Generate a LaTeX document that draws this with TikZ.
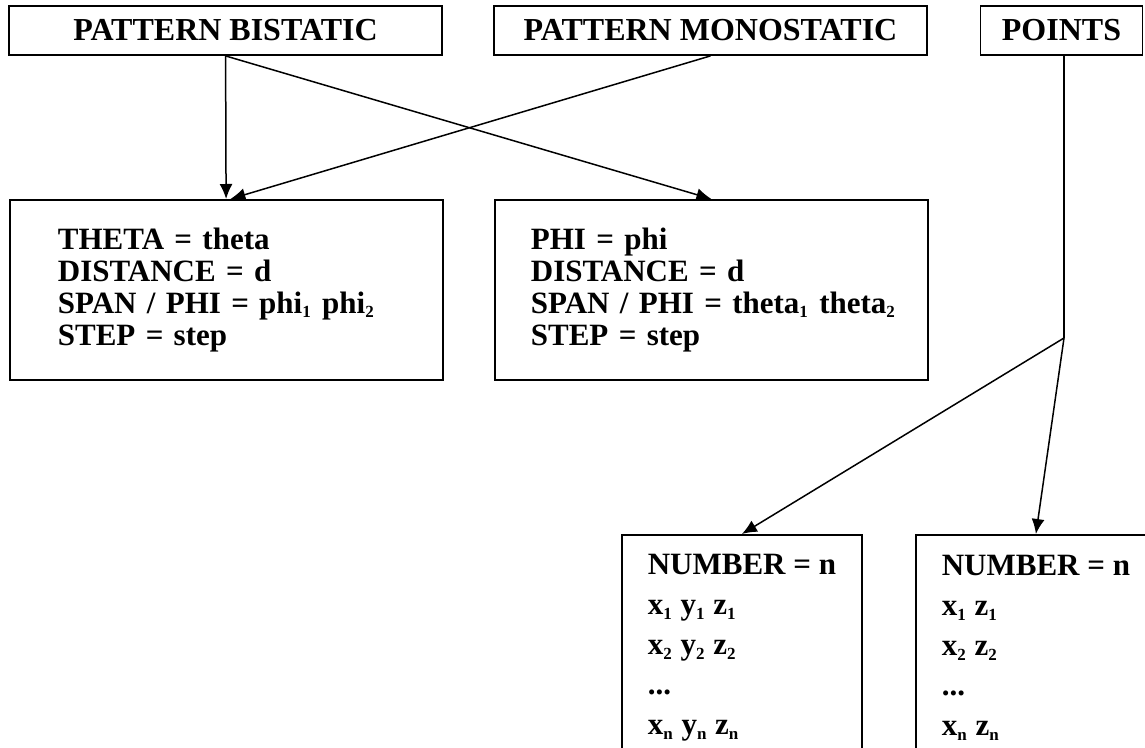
\documentclass[tikz,border=0pt]{standalone}
\usepackage{fontspec}
\setmainfont{Liberation Serif}
\usepackage{tikz}
\usetikzlibrary{arrows.meta}

\newcommand{\idx}[1]{\textsubscript{\fontsize{8.5}{8.5}\selectfont #1}}

\begin{document}
\begin{tikzpicture}[x=0.5pt, y=-0.5pt,
    font=\fontsize{15.5}{15.9}\selectfont\bfseries,
    headbox/.style={draw, rectangle, line width=0.9pt, minimum height=24.5pt, inner sep=0pt,
        font=\fontsize{16}{16}\selectfont\bfseries},
    infobox/.style={draw, rectangle, line width=0.9pt, align=left, anchor=north west, inner ysep=0pt},
    listbox/.style={draw, rectangle, line width=0.9pt, align=left, anchor=north west,
        minimum width=120pt, minimum height=113pt, font=\fontsize{15.5}{20}\selectfont\bfseries},
    link/.style={line width=0.75pt, -{Latex[length=7.5pt, width=6.5pt]}}]
    \useasboundingbox (0,0) rectangle (1145,748);

    % file headers
    \node[headbox, minimum width=216.5pt] (bistatic) at (225.5,30.5) {PATTERN BISTATIC};
    \node[headbox, minimum width=216.5pt] (monostatic) at (710.5,30.5) {PATTERN MONOSTATIC};
    \node[headbox, minimum width=81pt] (points) at (1061.5,30.5) {POINTS};

    % pattern contents
    \node[infobox, minimum height=90pt, inner xsep=24pt, text width=168.5pt] (bistaticbox) at (9,199)
        {THETA = theta\\DISTANCE = d\\\mbox{SPAN / PHI = phi\idx{1} phi\idx{2}}\\STEP = step};
    \node[infobox, minimum height=90pt, inner xsep=18pt, text width=180.5pt] (monobox) at (494,199)
        {PHI = phi\\DISTANCE = d\\\mbox{SPAN / PHI = theta\idx{1} theta\idx{2}}\\STEP = step};

    % point lists
    \node[listbox] (pointsbox) at (621,534)
        {NUMBER = n\\x\idx{1} y\idx{1} z\idx{1}\\x\idx{2} y\idx{2} z\idx{2}\\...\\x\idx{n} y\idx{n} z\idx{n}};
    \node[listbox] (pointsboxb) at (915,534)
        {NUMBER = n\\x\idx{1} z\idx{1}\\x\idx{2} z\idx{2}\\...\\x\idx{n} z\idx{n}};

    % connections
    \draw[link] (bistatic) -- (bistaticbox);
    \draw[link] (bistatic.south) -- (monobox.north);
    \draw[link] (monostatic.south) -- ([xshift=2pt]bistaticbox.north);
    \coordinate (split) at (1064,338);
    \draw[line width=0.75pt] (split |- points.south) -- (split);
    \draw[link] (split) -- (pointsbox.north);
    \draw[link] (split) -- (pointsboxb.north);
\end{tikzpicture}
\end{document}
